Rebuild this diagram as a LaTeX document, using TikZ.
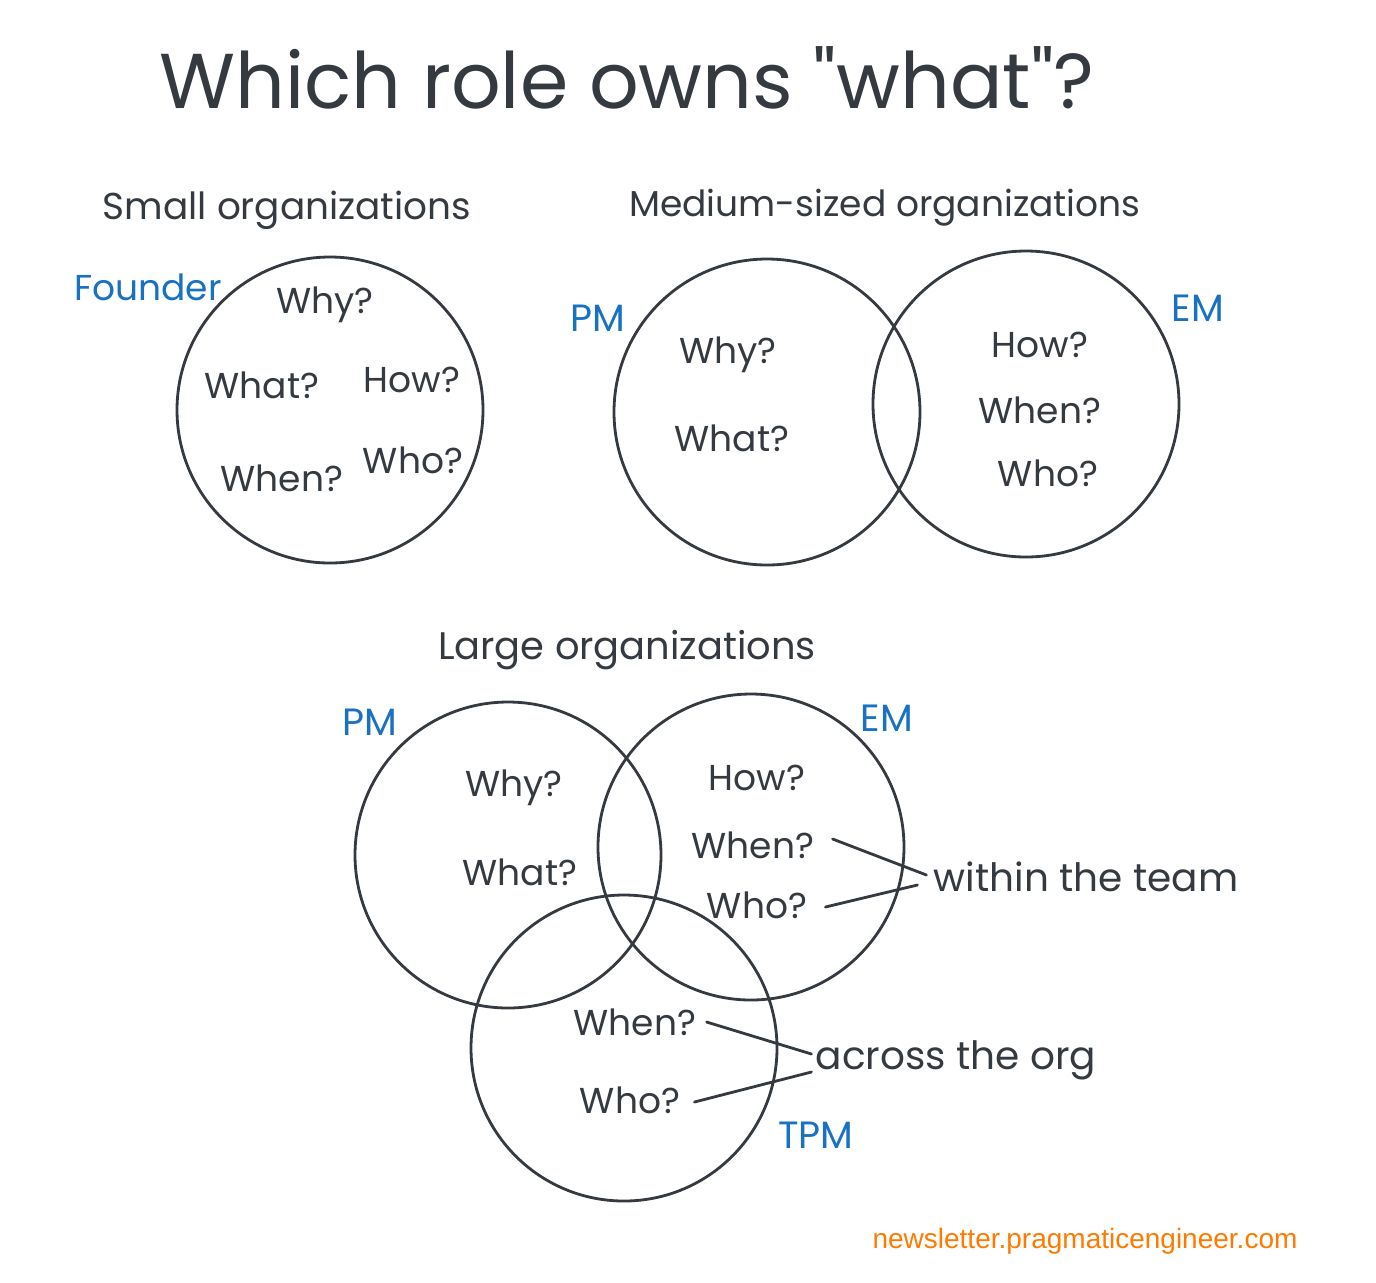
\documentclass[tikz,border=0pt]{standalone}
\usepackage{fontspec}
\setmainfont{Poppins}
\newfontfamily\titlefont{Poppins}
\newfontfamily\footfont{Liberation Sans}
\definecolor{ink}{HTML}{343A40}
\definecolor{rolec}{HTML}{1971C2}
\definecolor{footc}{HTML}{FF7A00}
\begin{document}
\begin{tikzpicture}[x=0.5pt,y=-0.5pt,
  circ/.style={circle,draw=ink,line width=1.4pt,minimum size=153pt,inner sep=0pt},
  q/.style={text=ink,font=\fontsize{18}{20}\selectfont,inner sep=1pt},
  phrase/.style={text=ink,font=\fontsize{19.5}{22}\selectfont,inner sep=1pt},
  sub/.style={text=ink,font=\fontsize{18.7}{21}\selectfont,inner sep=0pt},
  role/.style={text=rolec,font=\fontsize{19}{21}\selectfont,inner sep=0pt},
  link/.style={draw=ink,line width=1.4pt,line cap=round}]
\useasboundingbox (0,0) rectangle (1376,1282);
\fill[white] (0,0) rectangle (1376,1282);
% title
\node[text=ink,font=\titlefont\fontsize{38.9}{42}\selectfont] (title) at (627,78) {Which role owns "what"?};
% small
\node[sub] (subS) at (287,210) {Small organizations};
\node[circ] (cS) at (330,410) {};
\node[role,font=\fontsize{18}{21}\selectfont] (founder) at (148,287) {Founder};
\node[q] (sWhy) at (325,305) {Why?};
\node[q] (sWhat) at (262,385) {What?};
\node[q] (sHow) at (412,380) {How?};
\node[q] (sWhen) at (282,478) {When?};
\node[q] (sWho) at (413,460) {Who?};
% medium
\node[sub,font=\fontsize{18}{21}\selectfont] (subM) at (885,208) {Medium-sized organizations};
\node[circ] (cMpm) at (767,412) {};
\node[circ] (cMem) at (1026,404) {};
\node[role] (mPM) at (598,318) {PM};
\node[role] (mEM) at (1198,308) {EM};
\node[q] (mWhy) at (728,355) {Why?};
\node[q] (mWhat) at (732,438) {What?};
\node[q] (mHow) at (1040,345) {How?};
\node[q] (mWhen) at (1040,410) {When?};
\node[q] (mWho) at (1048,473) {Who?};
% large
\node[sub,font=\fontsize{19.2}{21}\selectfont] (subL) at (627,650) {Large organizations};
\node[circ] (cLpm) at (508,855) {};
\node[circ] (cLem) at (751,847) {};
\node[circ] (cLtpm) at (624,1048) {};
\node[role] (lPM) at (370,722) {PM};
\node[role] (lEM) at (887,718) {EM};
\node[role] (lTPM) at (816,1135) {TPM};
\node[q] (lWhy) at (514,788) {Why?};
\node[q] (lWhat) at (520,872) {What?};
\node[q] (lHow) at (757,778) {How?};
\node[q] (lWhen) at (753,845) {When?};
\node[q] (lWho) at (757,905) {Who?};
\node[phrase] (within) at (1086,877) {within the team};
\node[q] (tWhen) at (635,1022) {When?};
\node[q] (tWho) at (630,1100) {Who?};
\node[phrase] (across) at (956,1060) {across the org};
\coordinate (wA) at ([xshift=-2.5pt,yshift=1pt]within.west);
\coordinate (wB) at ([xshift=-7pt,yshift=-4pt]within.west);
\coordinate (aA) at ([xshift=-1pt,yshift=3pt]across.west);
\coordinate (aB) at ([xshift=-1pt,yshift=-6pt]across.west);
\draw[link] ([xshift=8pt,yshift=3pt]lWhen.east) -- (wA);
\draw[link] ([xshift=8pt,yshift=-1pt]lWho.east) -- (wB);
\draw[link] ([xshift=4pt,yshift=0pt]tWhen.east) -- (aA);
\draw[link] ([xshift=6pt,yshift=-1pt]tWho.east) -- (aB);
% footer
\node[text=footc,font=\footfont\fontsize{14}{16}\selectfont] (foot) at (1085,1241) {newsletter.pragmaticengineer.com};
\end{tikzpicture}
\end{document}
